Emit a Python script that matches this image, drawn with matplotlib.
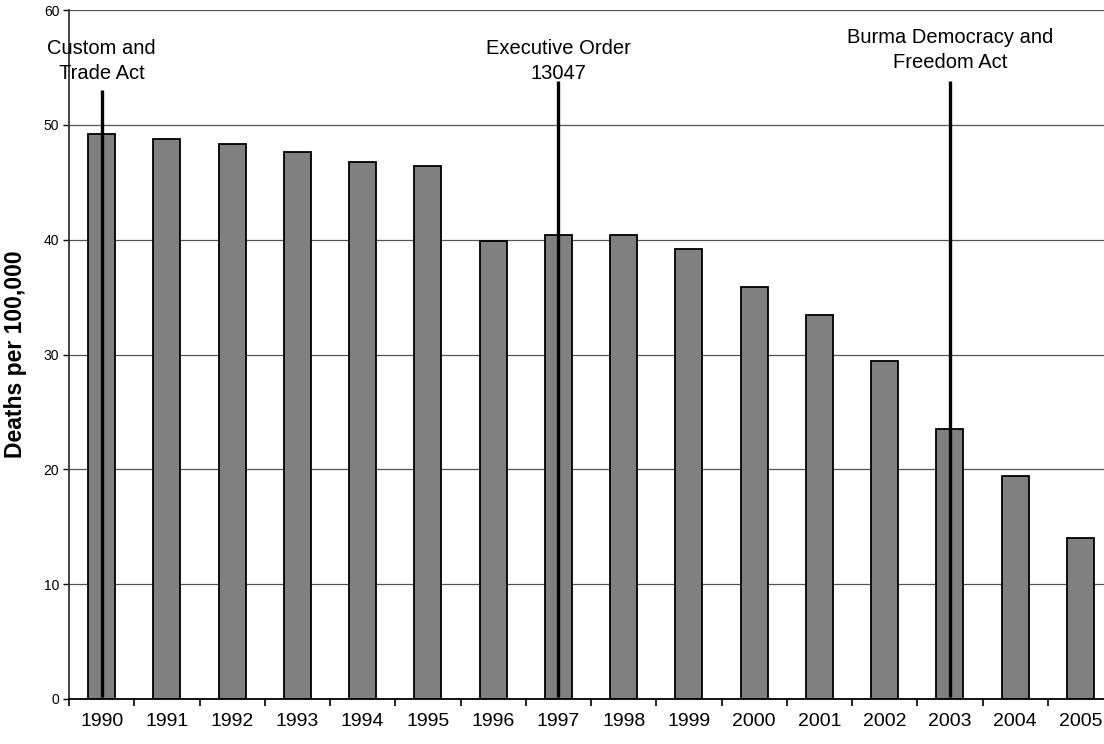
import numpy as np
import matplotlib.pyplot as plt

years = ["1990", "1991", "1992", "1993", "1994", "1995", "1996", "1997",
         "1998", "1999", "2000", "2001", "2002", "2003", "2004", "2005"]
deaths = [49.2, 48.8, 48.3, 47.6, 46.8, 46.4, 39.9, 40.4,
          40.4, 39.2, 35.9, 33.4, 29.4, 23.5, 19.4, 14.0]

# policy events marked with vertical lines
event_years = ["1990", "1997", "2003"]
event_labels = ["Custom and\nTrade Act", "Executive Order\n13047",
                "Burma Democracy and\nFreedom Act"]
event_tops = [53.0, 53.8, 53.8]
event_text_y = [55.6, 55.6, 56.5]

plt.rcParams['font.family'] = ['Liberation Sans', 'DejaVu Sans']

fig = plt.figure(figsize=(11.04, 7.44), dpi=100)
ax = fig.add_axes([69 / 1104, 45 / 744, 1044 / 1104, 689 / 744])

x = np.arange(len(years))
ax.bar(x, deaths, width=0.41, color="#808080", edgecolor="black",
       linewidth=1.3, zorder=2)

ax.set_xlim(-0.5, len(years) - 0.5)
ax.set_ylim(0, 60)

# gridlines
ax.set_yticks(np.arange(0, 61, 10))
ax.yaxis.grid(True, color="#555555", linewidth=0.9, zorder=0)
ax.set_axisbelow(True)

# category boundaries as major ticks, year labels on minor ticks
ax.set_xticks(np.arange(-0.5, len(years), 1.0))
ax.set_xticklabels([])
ax.set_xticks(x, minor=True)
ax.set_xticklabels(years, minor=True, fontsize=14)
ax.tick_params(axis="x", which="major", direction="out", length=5,
               width=1.2, color="black")
ax.tick_params(axis="x", which="minor", length=0, pad=10)
ax.tick_params(axis="y", direction="out", length=4, width=1,
               labelsize=10, pad=3)

for side in ["top", "right"]:
    ax.spines[side].set_visible(False)
ax.spines["left"].set_color("#333333")
ax.spines["left"].set_linewidth(1.3)
ax.spines["bottom"].set_color("black")
ax.spines["bottom"].set_linewidth(1.3)

ax.set_ylabel("Deaths per 100,000", fontsize=16.5, fontweight="bold",
              labelpad=12)

for yr, label, top, ty in zip(event_years, event_labels, event_tops,
                              event_text_y):
    xi = years.index(yr)
    ax.vlines(xi, 0.2, top, color="black", linewidth=2.4, zorder=3)
    ax.text(xi, ty, label, ha="center", va="center", fontsize=14.5,
            multialignment="center", linespacing=1.4, zorder=4)

fig.savefig("out.png", dpi=100)
